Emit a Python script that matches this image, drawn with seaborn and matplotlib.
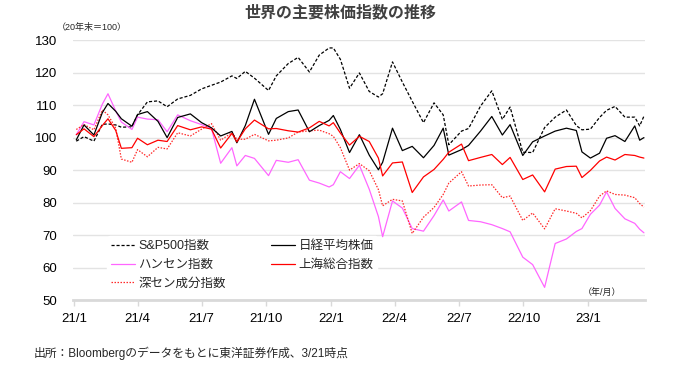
import pandas as pd
import numpy as np
import matplotlib
matplotlib.use('Agg')
import matplotlib.pyplot as plt
import matplotlib.dates as mdates
import seaborn as sns

# observation dates (shared by all series)
dates = [
    '2021-01-04', '2021-01-15', '2021-01-29', '2021-02-10', '2021-02-18', '2021-03-01',
    '2021-03-09', '2021-03-24', '2021-04-01', '2021-04-15', '2021-04-30', '2021-05-13',
    '2021-05-28', '2021-06-15', '2021-07-01', '2021-07-15', '2021-07-28', '2021-08-13',
    '2021-08-20', '2021-09-01', '2021-09-14', '2021-10-04', '2021-10-15', '2021-11-01',
    '2021-11-15', '2021-12-01', '2021-12-15', '2021-12-29',
    '2022-01-04', '2022-01-14', '2022-01-27', '2022-02-10', '2022-02-24', '2022-03-09',
    '2022-03-15', '2022-03-29', '2022-04-12', '2022-04-26', '2022-05-12', '2022-05-27',
    '2022-06-09', '2022-06-17', '2022-07-05', '2022-07-15', '2022-08-01', '2022-08-17',
    '2022-09-01', '2022-09-12', '2022-09-30', '2022-10-14', '2022-10-31', '2022-11-15',
    '2022-12-01', '2022-12-15', '2022-12-23',
    '2023-01-04', '2023-01-17', '2023-01-27', '2023-02-08', '2023-02-22', '2023-03-08',
    '2023-03-15', '2023-03-21',
]

# index values, end of 2020 = 100
sp500 = [
    98.9, 100.3, 98.9, 104.1, 104.2, 103.9, 103.2, 103.3, 107.0, 111.0, 111.3, 109.5,
    111.9, 113.0, 115.0, 116.1, 117.1, 119.0, 118.2, 120.4, 118.3, 114.5, 119.0, 122.8,
    124.7, 120.2, 125.4, 127.6,
    127.6, 124.1, 115.2, 119.9, 114.2, 112.5, 113.5, 123.3, 117.1, 111.2, 104.6, 110.7,
    107.0, 97.8, 102.0, 102.8, 109.7, 114.4, 105.6, 109.4, 95.5, 95.4, 103.1, 106.3,
    108.5, 103.7, 102.4,
    102.6, 106.2, 108.4, 109.6, 106.3, 106.3, 103.6, 106.6,
]
nikkei = [
    99.3, 103.9, 100.8, 107.7, 110.5, 108.1, 105.8, 103.5, 107.1, 108.0, 105.0, 100.0,
    106.2, 107.3, 104.6, 103.0, 100.5, 101.9, 98.4, 103.7, 111.8, 101.0, 105.9, 108.0,
    108.5, 101.8, 103.7, 105.3,
    106.8, 102.5, 95.4, 100.9, 94.6, 90.1, 92.4, 102.9, 96.0, 97.3, 93.8, 97.6,
    102.9, 94.6, 96.3, 97.6, 102.0, 106.5, 100.8, 104.0, 94.5, 98.7, 100.5, 102.0,
    102.9, 102.2, 95.6,
    93.7, 95.2, 99.8, 100.6, 98.8, 103.6, 99.2, 100.0,
]
hangseng = [
    100.9, 104.9, 103.9, 110.3, 113.5, 108.2, 104.8, 102.5, 106.3, 105.7, 105.5, 101.8,
    107.0, 105.2, 104.0, 102.8, 92.1, 96.9, 91.3, 94.5, 93.6, 88.3, 93.0, 92.4,
    93.2, 86.9, 86.0, 84.8,
    85.5, 89.5, 87.4, 91.5, 84.1, 75.7, 69.5, 80.5, 78.3, 72.0, 71.2, 76.0,
    80.8, 77.4, 80.2, 74.5, 74.1, 73.2, 72.0, 71.0, 63.2, 60.9, 53.9, 67.4,
    68.8, 71.1, 72.0,
    76.4, 79.2, 83.3, 78.2, 75.0, 73.6, 71.8, 70.7,
]
shanghai = [
    100.9, 102.7, 100.3, 103.7, 105.8, 102.2, 96.7, 96.9, 99.8, 97.8, 99.2, 98.8,
    103.7, 102.4, 103.3, 102.6, 96.8, 101.3, 98.7, 102.7, 105.4, 102.7, 102.8, 102.1,
    101.7, 103.0, 105.0, 103.6,
    104.6, 101.4, 97.7, 100.4, 98.8, 93.7, 88.2, 92.2, 92.5, 83.1, 87.9, 90.2,
    93.3, 95.5, 98.0, 92.9, 93.9, 94.8, 91.7, 93.9, 87.1, 88.5, 83.3, 90.3,
    91.1, 91.2, 87.7,
    89.9, 92.8, 94.0, 93.1, 94.8, 94.5, 94.0, 93.7,
]
shenzhen = [
    102.5, 104.0, 102.4, 108.5, 107.0, 102.9, 93.4, 92.4, 96.3, 94.1, 97.0, 96.5,
    101.5, 100.5, 102.6, 104.3, 99.2, 101.5, 99.5, 99.5, 101.0, 99.0, 99.2, 99.9,
    101.7, 102.1, 102.3, 101.2,
    100.4, 96.9, 90.0, 92.0, 89.8, 84.0, 79.0, 81.0, 80.5, 70.5, 75.5, 78.5,
    82.5, 86.0, 89.5, 85.1, 85.4, 85.5, 81.5, 82.0, 74.5, 76.8, 71.9, 78.1,
    77.4, 76.7, 75.3,
    77.5, 82.0, 83.6, 82.5, 82.3, 81.5, 79.7, 78.6,
]

tick_dates = ['2021-01-01', '2021-04-01', '2021-07-01', '2021-10-01', '2022-01-01',
              '2022-04-01', '2022-07-01', '2022-10-01', '2023-01-01']
tick_labels = ['21/1', '21/4', '21/7', '21/10', '22/1', '22/4', '22/7', '22/10', '23/1']

df = pd.DataFrame({
    'date': pd.to_datetime(dates),
    'S&P500指数': sp500,
    '日経平均株価': nikkei,
    'ハンセン指数': hangseng,
    '上海総合指数': shanghai,
    '深セン成分指数': shenzhen,
})

sns.set_theme(style='white')
plt.rcParams['font.family'] = ['Liberation Sans', 'Noto Sans CJK JP', 'DejaVu Sans']

fig = plt.figure(figsize=(6.8, 3.65), dpi=100)
ax = fig.add_axes([0.107, 0.178, 0.842, 0.712])

# order chosen so the 2-column legend reads row by row like the original
styles = [
    ('S&P500指数', 'black', (0, (2.5, 1.5))),
    ('ハンセン指数', '#ff66ff', '-'),
    ('深セン成分指数', '#ff2a2a', (0, (1.2, 1.2))),
    ('日経平均株価', 'black', '-'),
    ('上海総合指数', '#ff0000', '-'),
]
for name, color, ls in styles:
    sns.lineplot(data=df, x='date', y=name, ax=ax, color=color, linestyle=ls,
                 linewidth=0.9, label=name)

ax.set_ylim(50, 130)
ax.set_xlim(pd.Timestamp('2020-12-30'), pd.Timestamp('2023-03-23'))
ax.set_yticks(np.arange(50, 131, 10))
ax.set_xticks(pd.to_datetime(tick_dates))
ax.set_xticklabels(tick_labels)
ax.set_xlabel('')
ax.set_ylabel('')
ax.grid(axis='y', color='#e3e3e3', linewidth=1.0)
ax.grid(axis='x', visible=False)
for s in ['left', 'right', 'top']:
    ax.spines[s].set_visible(False)
ax.spines['bottom'].set_color('#d9d9d9')
ax.spines['bottom'].set_linewidth(2.0)
ax.tick_params(axis='y', length=0, pad=11, labelsize=9.5, labelcolor='black')
ax.tick_params(axis='x', length=4, width=1, color='#d9d9d9', pad=5, labelsize=9.5,
               labelcolor='black', bottom=True)

leg = ax.legend(loc='upper left', bbox_to_anchor=(0.06, 0.245), ncol=2, frameon=True,
                fontsize=9, handlelength=1.9, handletextpad=0.3, columnspacing=3.6,
                labelspacing=0.55, borderaxespad=0, borderpad=0.3)
leg.get_frame().set_facecolor('white')
leg.get_frame().set_edgecolor('white')
leg.get_frame().set_alpha(1.0)

fig.text(0.5, 0.965, '世界の主要株価指数の推移', ha='center', va='center',
         fontsize=11.5, fontweight='bold', color='#404040')
fig.text(0.083, 0.925, '（20年末＝100）', ha='left', va='center', fontsize=6.5)
ax.text(0.925, 0.01, '（年/月）', transform=ax.transAxes, ha='center', va='bottom',
        fontsize=6.5)
fig.text(0.049, 0.033, '出所：Bloombergのデータをもとに東洋証券作成、3/21時点',
         ha='left', va='center', fontsize=8.5)

fig.savefig('out.png', dpi=100)
